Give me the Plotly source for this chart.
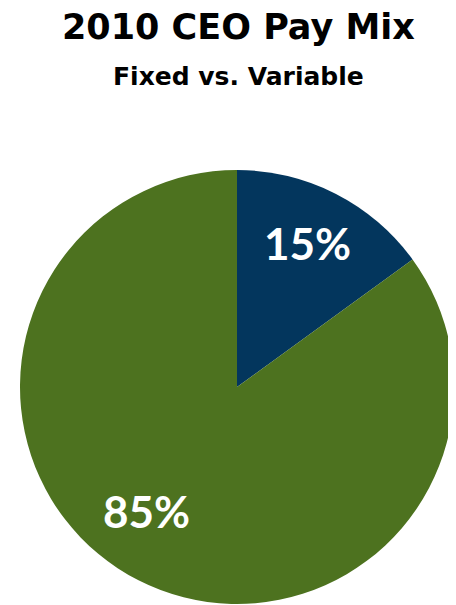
import plotly.graph_objects as go

categories = ["Fixed", "Variable"]
values = [15, 85]
colors = ["#03365D", "#4D721F"]
title_text = "2010 CEO Pay Mix"
subtitle_text = "Fixed vs. Variable"

# the page body has an 8px margin, so the figure is sized to fit the window
W, H = 448, 597
cx, cy, r = 229, 379, 217

fig = go.Figure(go.Pie(
    labels=categories,
    values=values,
    sort=False,
    direction="clockwise",
    rotation=0,
    marker=dict(colors=colors, line=dict(width=0)),
    textinfo="none",
    hoverinfo="label+percent",
    showlegend=False,
    domain=dict(x=[(cx - r) / W, (cx + r) / W], y=[1 - (cy + r) / H, 1 - (cy - r) / H]),
))

# data labels (Excel "best fit" placement)
label_pos = [(299.5, 234.5), (138, 503)]
for v, (lx, ly) in zip(values, label_pos):
    fig.add_annotation(text=f"{v}%", x=lx / W, y=1 - ly / H, xref="paper", yref="paper",
                       showarrow=False, xanchor="center", yanchor="middle",
                       font=dict(family="Lato", size=44, color="white", weight="bold"))

fig.add_annotation(text=title_text, x=230.5 / W, y=1 - 19 / H, xref="paper", yref="paper",
                   showarrow=False, xanchor="center", yanchor="middle",
                   font=dict(family="DejaVu Sans", size=35, color="black", weight="bold"))
fig.add_annotation(text=subtitle_text, x=230.5 / W, y=1 - 69 / H, xref="paper", yref="paper",
                   showarrow=False, xanchor="center", yanchor="middle",
                   font=dict(family="DejaVu Sans", size=25, color="black", weight="bold"))

fig.update_layout(width=W, height=H, margin=dict(l=0, r=0, t=0, b=0),
                  paper_bgcolor="white", plot_bgcolor="white")
fig.write_html("out.html")
